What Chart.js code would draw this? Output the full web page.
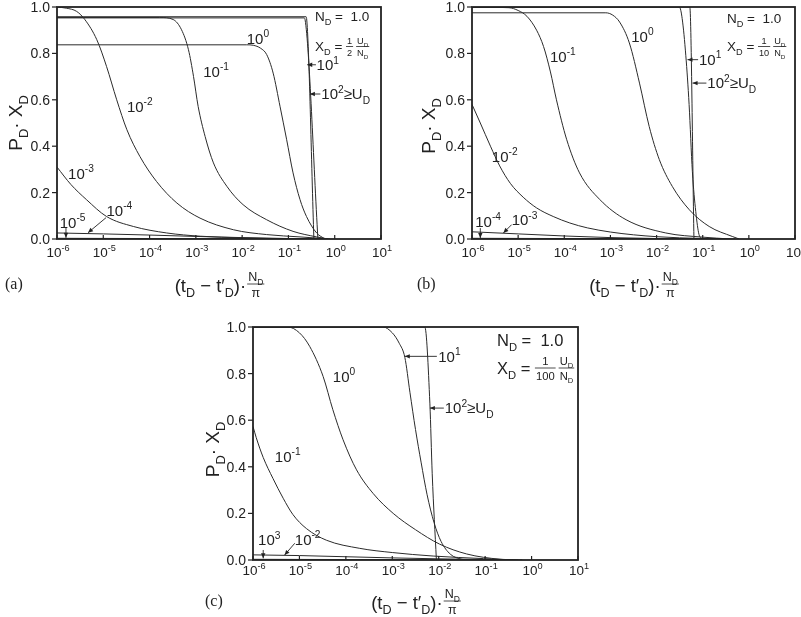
<!DOCTYPE html>
<html>
<head>
<meta charset="utf-8">
<script src="https://cdn.jsdelivr.net/npm/chart.js@4.4.1/dist/chart.umd.min.js"></script>
<style>
  body { margin: 0; background: #fff; width: 801px; height: 617px; position: relative; overflow: hidden; }
  canvas { position: absolute; }
</style>
</head>
<body>
<canvas id="chartA" width="400" height="300" style="left:0;top:0"></canvas>
<canvas id="chartB" width="401" height="300" style="left:400px;top:0"></canvas>
<canvas id="chartC" width="400" height="317" style="left:200px;top:300px"></canvas>
<script>
// axis ticks
const decadeExps = [-6, -5, -4, -3, -2, -1, 0, 1];
const yTickValues = [0, 0.2, 0.4, 0.6, 0.8, 1.0];
const yTickLabels = ["0.0", "0.2", "0.4", "0.6", "0.8", "1.0"];

// curves: [log10((tD - t'D)·ND/π), PD·XD], one list per U_D
// (a) X_D = 1/2 U_D/N_D
const aUm5 = [[-6, 0.003], [-4, 0.002], [-2, 0.001], [-0.5, 0]];
const aUm4 = [[-6, 0.026], [-5, 0.022], [-4, 0.017], [-3, 0.011], [-2, 0.006], [-1, 0.002], [-0.3, 0]];
const aUm3 = [[-6, 0.31], [-5.7, 0.235], [-5.36, 0.169], [-4.93, 0.097], [-4.35, 0.054], [-3.63, 0.026], [-2.9, 0.012], [-2, 0.005], [-1, 0.001], [-0.4, 0]];
const aUm2 = [[-6, 1.0], [-5.8, 0.995], [-5.575, 0.981], [-5.395, 0.945], [-5.14, 0.859], [-4.93, 0.744], [-4.71, 0.6], [-4.49, 0.471], [-4.21, 0.356], [-3.85, 0.248], [-3.41, 0.155], [-2.91, 0.09], [-2.19, 0.04], [-1.47, 0.019], [-0.75, 0.009], [-0.1, 0]];
const aUm1 = [[-6, 0.955], [-3.78, 0.955], [-3.49, 0.946], [-3.31, 0.902], [-3.16, 0.816], [-3.05, 0.70], [-2.95, 0.571], [-2.8, 0.442], [-2.62, 0.328], [-2.33, 0.227], [-1.98, 0.148], [-1.47, 0.083], [-0.9, 0.033], [-0.39, 0.009], [-0.14, 0]];
const aU0 = [[-6, 0.837], [-1.9, 0.837], [-1.76, 0.835], [-1.6, 0.822], [-1.47, 0.795], [-1.33, 0.715], [-1.18, 0.57], [-1.04, 0.43], [-0.9, 0.285], [-0.75, 0.17], [-0.61, 0.097], [-0.39, 0.026], [-0.21, 0]];
const aU1 = [[-6, 0.953], [-0.66, 0.953], [-0.64, 0.945], [-0.363, 0]];
const aU2 = [[-6, 0.958], [-0.62, 0.958], [-0.607, 0.95], [-0.45, 0]];

// (b) X_D = 1/10 U_D/N_D
const bUm4 = [[-6, 0.003], [-4, 0.002], [-2, 0.001], [-0.5, 0]];
const bUm3 = [[-6, 0.031], [-5, 0.022], [-4, 0.013], [-3, 0.006], [-2, 0.002], [-1, 0.0005], [-0.3, 0]];
const bUm2 = [[-6, 0.58], [-5.82, 0.5], [-5.6, 0.40], [-5.4, 0.315], [-5.17, 0.24], [-4.89, 0.18], [-4.6, 0.134], [-4.24, 0.097], [-3.88, 0.069], [-3.5, 0.048], [-3, 0.03], [-2.5, 0.018], [-2, 0.01], [-1.5, 0.005], [-1, 0.002], [-0.5, 0]];
const bUm1 = [[-6, 1.0], [-5.2, 0.997], [-5.0, 0.985], [-4.81, 0.96], [-4.6, 0.9], [-4.45, 0.83], [-4.3, 0.72], [-4.17, 0.60], [-3.95, 0.43], [-3.67, 0.285], [-3.23, 0.17], [-2.66, 0.083], [-1.8, 0.026], [-1.0, 0.008], [-0.4, 0]];
const bU0 = [[-6, 0.975], [-3.1, 0.975], [-2.95, 0.965], [-2.8, 0.935], [-2.59, 0.845], [-2.37, 0.672], [-2.16, 0.485], [-1.94, 0.342], [-1.66, 0.227], [-1.29, 0.126], [-0.86, 0.054], [-0.36, 0.011], [-0.21, 0]];
const bU1 = [[-6, 1.0], [-1.506, 1.0], [-1.445, 0.95], [-1.366, 0.79], [-1.295, 0.58], [-1.224, 0.29], [-1.151, 0.119], [-1.08, 0.019], [-1.009, 0]];
const bU2 = [[-6, 1.0], [-1.28, 1.0], [-1.19, 0]];

// (c) X_D = 1/100 U_D/N_D
const cUm3 = [[-6, 0.003], [-4, 0.002], [-2, 0.001], [-0.5, 0]];
const cUm2 = [[-6, 0.022], [-5, 0.019], [-4, 0.014], [-3, 0.009], [-2, 0.005], [-1, 0.002], [-0.2, 0]];
const cUm1 = [[-6, 0.573], [-5.93, 0.525], [-5.78, 0.44], [-5.57, 0.35], [-5.35, 0.265], [-5.14, 0.195], [-4.85, 0.135], [-4.42, 0.085], [-3.7, 0.05], [-3.0, 0.032], [-2.12, 0.017], [-1.04, 0.006], [-0.3, 0]];
const cU0 = [[-6, 1.0], [-5.25, 1.0], [-5.0, 0.975], [-4.78, 0.917], [-4.49, 0.788], [-4.28, 0.645], [-4.06, 0.516], [-3.77, 0.387], [-3.41, 0.285], [-2.98, 0.2], [-2.5, 0.13], [-1.98, 0.068], [-1.4, 0.026], [-0.68, 0.003], [-0.4, 0]];
const cU1 = [[-6, 1.0], [-3.2, 1.0], [-3.0, 0.975], [-2.85, 0.93], [-2.73, 0.87], [-2.62, 0.72], [-2.5, 0.56], [-2.38, 0.42], [-2.25, 0.28], [-2.1, 0.16], [-1.95, 0.08], [-1.75, 0.025], [-1.5, 0.003], [-1.4, 0]];
const cU2 = [[-6, 1.0], [-2.30, 1.0], [-2.19, 0.67], [-2.14, 0.37], [-2.05, 0]];

// curve labels, anchored (left, middle) at [log10 x, y]
const aLabels = ["10^{-5}", "10^{-4}", "10^{-3}", "10^{-2}", "10^{-1}", "10^{0}", "10^{1}", "10^{2}≥U_{D}"];
const aLabelAt = [[-5.94, 0.072], [-4.93, 0.122], [-5.76, 0.284], [-4.49, 0.572], [-2.84, 0.722], [-1.9, 0.865], [-0.392, 0.751], [-0.29, 0.625]];
const aArrows = [[-5.806, 0.049, -5.806, 0.005], [-4.94, 0.092, -5.33, 0.027], [-0.406, 0.751, -0.594, 0.751], [-0.31, 0.625, -0.536, 0.625]];

const bLabels = ["10^{-4}", "10^{-3}", "10^{-2}", "10^{-1}", "10^{0}", "10^{1}", "10^{2}≥U_{D}"];
const bLabelAt = [[-5.93, 0.076], [-5.14, 0.083], [-5.57, 0.356], [-4.31, 0.787], [-2.55, 0.873], [-1.08, 0.773], [-0.9, 0.672]];
const bArrows = [[-5.82, 0.047, -5.82, 0.004], [-5.14, 0.062, -5.32, 0.026], [-1.1, 0.773, -1.33, 0.773], [-0.92, 0.672, -1.22, 0.672]];

const cLabels = ["10^{3}", "10^{-2}", "10^{-1}", "10^{0}", "10^{1}", "10^{2}≥U_{D}"];
const cLabelAt = [[-5.89, 0.086], [-5.10, 0.089], [-5.53, 0.444], [-4.28, 0.788], [-2.01, 0.874], [-1.87, 0.652]];
const cArrows = [[-5.78, 0.043, -5.78, 0.007], [-5.10, 0.072, -5.32, 0.021], [-2.04, 0.874, -2.73, 0.874], [-1.89, 0.652, -2.19, 0.652]];

const SANS = '"Liberation Sans", Arial, Helvetica, sans-serif';
const SERIF = '"Liberation Serif", "Times New Roman", serif';
const INK = "#222";

// "a^{b}" superscript, "a_{b}" subscript
function parseRich(s) {
  const out = [];
  const re = /([_^])\{([^}]*)\}|([^_^]+)/g;
  let m;
  while ((m = re.exec(s))) {
    if (m[3]) out.push({ t: m[3], k: 0 });
    else out.push({ t: m[2], k: m[1] === "^" ? 1 : -1 });
  }
  return out;
}

function drawRich(ctx, s, x, y, size, align, fam, measureOnly) {
  fam = fam || SANS;
  const parts = parseRich(s);
  const small = size * 0.68;
  let w = 0;
  parts.forEach(p => {
    ctx.font = (p.k ? small : size) + "px " + fam;
    p.w = ctx.measureText(p.t).width;
    w += p.w;
  });
  if (measureOnly) return w;
  let cx = align === "center" ? x - w / 2 : align === "right" ? x - w : x;
  const base = y + size * 0.36;
  ctx.textAlign = "left";
  ctx.textBaseline = "alphabetic";
  parts.forEach(p => {
    ctx.font = (p.k ? small : size) + "px " + fam;
    const dy = p.k === 1 ? -size * 0.44 : p.k === -1 ? size * 0.3 : 0;
    ctx.fillText(p.t, cx, base + dy);
    cx += p.w;
  });
  return w;
}

function drawFrac(ctx, num, den, x, y, size, measureOnly) {
  const wn = drawRich(ctx, num, 0, 0, size, "left", SANS, true);
  const wd = drawRich(ctx, den, 0, 0, size, "left", SANS, true);
  const w = Math.max(wn, wd) + 2;
  if (measureOnly) return w;
  const cx = x + w / 2;
  drawRich(ctx, num, cx, y - size * 0.62, size, "center");
  drawRich(ctx, den, cx, y + size * 0.68, size, "center");
  ctx.lineWidth = 0.8;
  ctx.beginPath();
  ctx.moveTo(x, y);
  ctx.lineTo(x + w, y);
  ctx.stroke();
  return w;
}

function arrow(ctx, x1, y1, x2, y2) {
  const a = Math.atan2(y2 - y1, x2 - x1);
  ctx.lineWidth = 0.9;
  ctx.beginPath();
  ctx.moveTo(x1, y1);
  ctx.lineTo(x2, y2);
  ctx.stroke();
  ctx.beginPath();
  ctx.moveTo(x2, y2);
  ctx.lineTo(x2 - 5 * Math.cos(a) + 2.2 * Math.sin(a), y2 - 5 * Math.sin(a) - 2.2 * Math.cos(a));
  ctx.lineTo(x2 - 5 * Math.cos(a) - 2.2 * Math.sin(a), y2 - 5 * Math.sin(a) + 2.2 * Math.cos(a));
  ctx.closePath();
  ctx.fill();
}

function makePanel(id, curves, labels, labelAt, arrows, look) {
  const decor = {
    id: "decor",
    afterDraw(chart) {
      const ctx = chart.ctx;
      const xs = chart.scales.x, ys = chart.scales.y;
      const area = chart.chartArea;
      const px = e => xs.getPixelForValue(Math.pow(10, e));
      const py = v => ys.getPixelForValue(v);
      ctx.save();
      ctx.fillStyle = INK;
      ctx.strokeStyle = INK;

      // frame
      ctx.lineWidth = 1.8;
      ctx.strokeRect(area.left, area.top, area.right - area.left, area.bottom - area.top);

      // x ticks (inside) and labels
      ctx.lineWidth = 1.2;
      decadeExps.forEach(e => {
        const x = px(e);
        ctx.beginPath();
        ctx.moveTo(x, area.bottom);
        ctx.lineTo(x, area.bottom - 4);
        ctx.stroke();
        drawRich(ctx, "10^{" + e + "}", x + 1, area.bottom + look.tickDy, 13.5, "center");
      });
      // y ticks (outside) and labels
      yTickValues.forEach((v, i) => {
        const y = py(v);
        ctx.beginPath();
        ctx.moveTo(area.left - 5, y);
        ctx.lineTo(area.left, y);
        ctx.stroke();
        drawRich(ctx, yTickLabels[i], area.left - 7, y, 14, "right");
      });

      // axis titles
      ctx.save();
      ctx.translate(look.yTitleX, (area.top + area.bottom) / 2 + look.yTitleDy);
      ctx.rotate(-Math.PI / 2);
      drawRich(ctx, "P_{D}· X_{D}", 0, 0, 19, "center");
      ctx.restore();

      const tx = "(t_{D} − t′_{D})·";
      const ty = area.bottom + look.xTitleDy;
      const w1 = drawRich(ctx, tx, 0, 0, 18.5, "left", SANS, true);
      const w2 = drawFrac(ctx, "N_{D}", "π", 0, 0, 12.5, true);
      let x0 = (area.left + area.right) / 2 - (w1 + w2) / 2;
      drawRich(ctx, tx, x0, ty, 18.5, "left");
      drawFrac(ctx, "N_{D}", "π", x0 + w1 + 1, ty - 1, 12.5);

      // panel letter
      ctx.font = "16px " + SERIF;
      ctx.textAlign = "left";
      ctx.textBaseline = "middle";
      ctx.fillText(look.letter, look.letterAt[0], look.letterAt[1]);

      // curve labels and arrows
      labels.forEach((t, i) => drawRich(ctx, t, px(labelAt[i][0]), py(labelAt[i][1]), 15, "left"));
      arrows.forEach(a => arrow(ctx, px(a[0]), py(a[1]), px(a[2]), py(a[3])));

      // legend text
      const ls = look.legendSize;
      drawRich(ctx, "N_{D} =  1.0", look.legendAt[0][0], look.legendAt[0][1], ls, "left");
      let lx = look.legendAt[1][0];
      const ly = look.legendAt[1][1];
      lx += drawRich(ctx, "X_{D} = ", lx, ly, ls, "left");
      lx += drawFrac(ctx, look.frac, look.fracDen, lx, ly, ls * 0.68) + 3;
      drawFrac(ctx, "U_{D}", "N_{D}", lx, ly, ls * 0.68);
      ctx.restore();
    }
  };

  return new Chart(document.getElementById(id), {
    type: "line",
    data: {
      datasets: curves.map(pts => ({
        data: pts.map(([e, v]) => ({ x: Math.pow(10, e), y: v })),
        borderColor: "#2b2b2b",
        borderWidth: 1,
        pointRadius: 0,
        fill: false,
        cubicInterpolationMode: "monotone"
      }))
    },
    options: {
      responsive: false,
      animation: false,
      events: [],
      layout: { padding: look.pad },
      scales: {
        x: { type: "logarithmic", min: 1e-6, max: 10, display: false },
        y: { type: "linear", min: 0, max: 1, display: false }
      },
      plugins: { legend: { display: false }, tooltip: { enabled: false } }
    },
    plugins: [decor]
  });
}

makePanel("chartA", [aUm5, aUm4, aUm3, aUm2, aUm1, aU0, aU1, aU2], aLabels, aLabelAt, aArrows, {
  pad: { left: 57, right: 19, top: 7, bottom: 61 },
  tickDy: 13, xTitleDy: 46, yTitleX: 15, yTitleDy: 0,
  letter: "(a)", letterAt: [5, 285],
  legendSize: 13.5, legendAt: [[315, 16.5], [315, 46.5]], frac: "1", fracDen: "2"
});
makePanel("chartB", [bUm4, bUm3, bUm2, bUm1, bU0, bU1, bU2], bLabels, bLabelAt, bArrows, {
  pad: { left: 72, right: 6, top: 7, bottom: 61 },
  tickDy: 13, xTitleDy: 46, yTitleX: 28, yTitleDy: 3,
  letter: "(b)", letterAt: [17, 285],
  legendSize: 13.5, legendAt: [[327, 18], [327, 46.5]], frac: "1", fracDen: "10"
});
makePanel("chartC", [cUm3, cUm2, cUm1, cU0, cU1, cU2], cLabels, cLabelAt, cArrows, {
  pad: { left: 53, right: 22, top: 27, bottom: 57 },
  tickDy: 10, xTitleDy: 42, yTitleX: 12, yTitleDy: 6,
  letter: "(c)", letterAt: [5, 302],
  legendSize: 16.5, legendAt: [[297, 40], [297, 68]], frac: "1", fracDen: "100"
});
</script>
</body>
</html>
